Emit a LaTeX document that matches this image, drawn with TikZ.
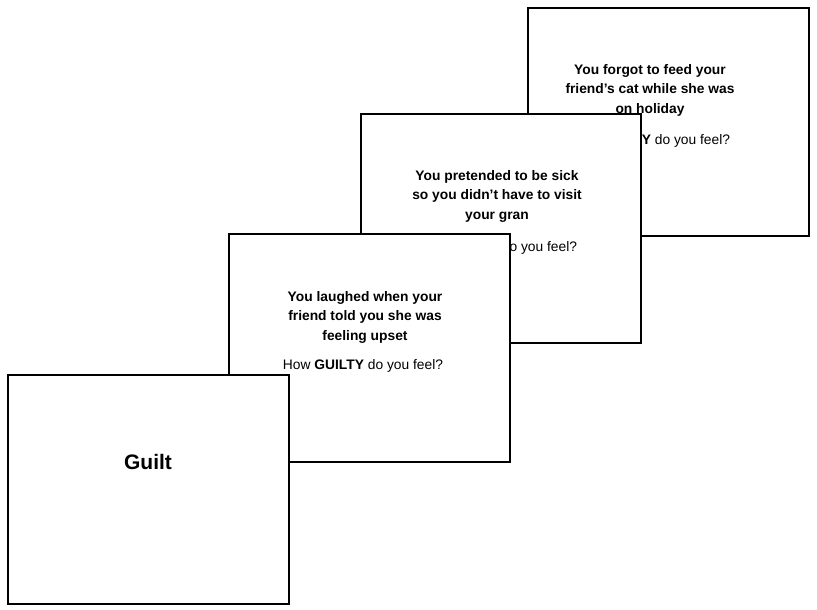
\documentclass[tikz,border=0pt]{standalone}
\usepackage{fontspec}
\setmainfont{Liberation Sans}
\begin{document}
\begin{tikzpicture}[x=1pt,y=-1pt,
  card/.style={draw=black,line width=2pt,fill=white},
  txt/.style={align=center,font=\fontsize{13.8}{19.5}\selectfont\bfseries,inner sep=0pt},
  q/.style={font=\fontsize{13.8}{15}\selectfont,inner sep=0pt}]
\useasboundingbox (0,0) rectangle (817,610);
\draw[card] (528,8) rectangle (809,236) coordinate (c4);
\node[txt] (t4) at (650,90) {You forgot to feed your\\friend’s cat while she was\\on holiday};
\node[q] (q4) at (650,141) {How \textbf{GUILTY} do you feel?};
\draw[card] (361,114) rectangle (641,343) coordinate (c3);
\node[txt] (t3) at (497,196) {You pretended to be sick\\so you didn’t have to visit\\your gran};
\node[q] (q3) at (497,248) {How \textbf{GUILTY} do you feel?};
\draw[card] (229,234) rectangle (510,462) coordinate (c2);
\node[txt] (t2) at (365,317) {You laughed when your\\friend told you she was\\feeling upset};
\node[q] (q2) at (363,366) {How \textbf{GUILTY} do you feel?};
\draw[card] (8,375) rectangle (289,604) coordinate (c1);
\node[font=\fontsize{21}{24}\selectfont\bfseries] (g) at (148,462) {Guilt};
\end{tikzpicture}
\end{document}
